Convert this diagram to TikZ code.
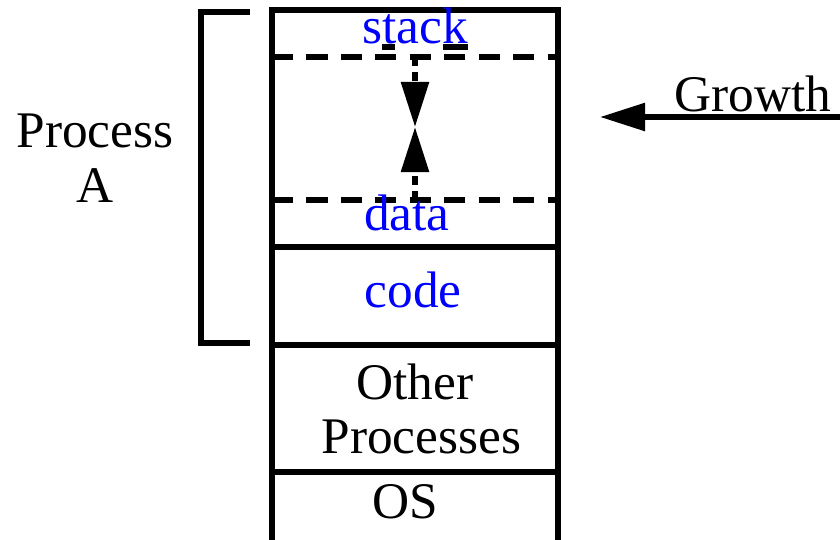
\documentclass[tikz,border=0pt]{standalone}
\usepackage{fontspec}
\setmainfont{Liberation Serif}
\usepackage{tikz}
\usetikzlibrary{arrows.meta, positioning}

\begin{document}
\begin{tikzpicture}[x=0.01cm, y=-0.01cm, line width=1.6pt,
    seg/.style={draw, minimum width=2.86cm, inner sep=0pt},
    lbl/.style={font=\fontsize{14.6}{15.5}\selectfont},
    blu/.style={lbl, text=blue},
    gap/.style={dash pattern=on 6pt off 3.8pt},
    tip/.style={-{Triangle[length=0.45cm, width=0.27cm]}}]
    \useasboundingbox (0,0) rectangle (840,539);

    % memory column
    \node[seg, minimum height=2.37cm] (proc) at (415,128.5) {};
    \node[seg, minimum height=0.98cm] (code) at (415,296) {};
    \node[seg, minimum height=1.27cm] (other) at (415,408.5) {};
    \node[seg, minimum height=0.90cm] (os) at (415,517) {};

    % stack / data boundaries
    \coordinate (sl) at (272,57);
    \coordinate (sr) at (558,57);
    \coordinate (dl) at (272,200);
    \coordinate (dr) at (558,200);
    \draw[gap] (sl) -- (sr);
    \draw[gap] (dl) -- (dr);
    \coordinate (meet) at (415,127);
    \draw[tip, dash pattern=on 0.9mm off 0.6mm] (415,57) -- (meet);
    \draw[tip, dash pattern=on 0.9mm off 0.6mm] (415,200) -- (meet);

    % labels
    \node[blu] (stack) at (415,26) {stack};
    \draw (382,47) -- (395,47);
    \draw (443,47) -- (468,47);
    \node[blu] (data) at (407,213) {data};
    \node[blu] at (413,290) {code};
    \node[lbl, align=center] at (415,409) {Other\\ \ Processes};
    \node[lbl] at (405,502) {OS};

    % process bracket
    \coordinate (bt) at (250,12);
    \coordinate (bb) at (250,343);
    \draw (bt) -- (201,12) -- (201,343) -- (bb);
    \node[lbl, align=center] (pa) at (95,158) {Process\\A};

    % growth
    \coordinate (gr) at (845,117);
    \coordinate (gl) at (600,117);
    \draw[tip] (gr) -- (gl);
    \node[lbl, anchor=base] (growth) at (753,111) {Growth};
\end{tikzpicture}
\end{document}
